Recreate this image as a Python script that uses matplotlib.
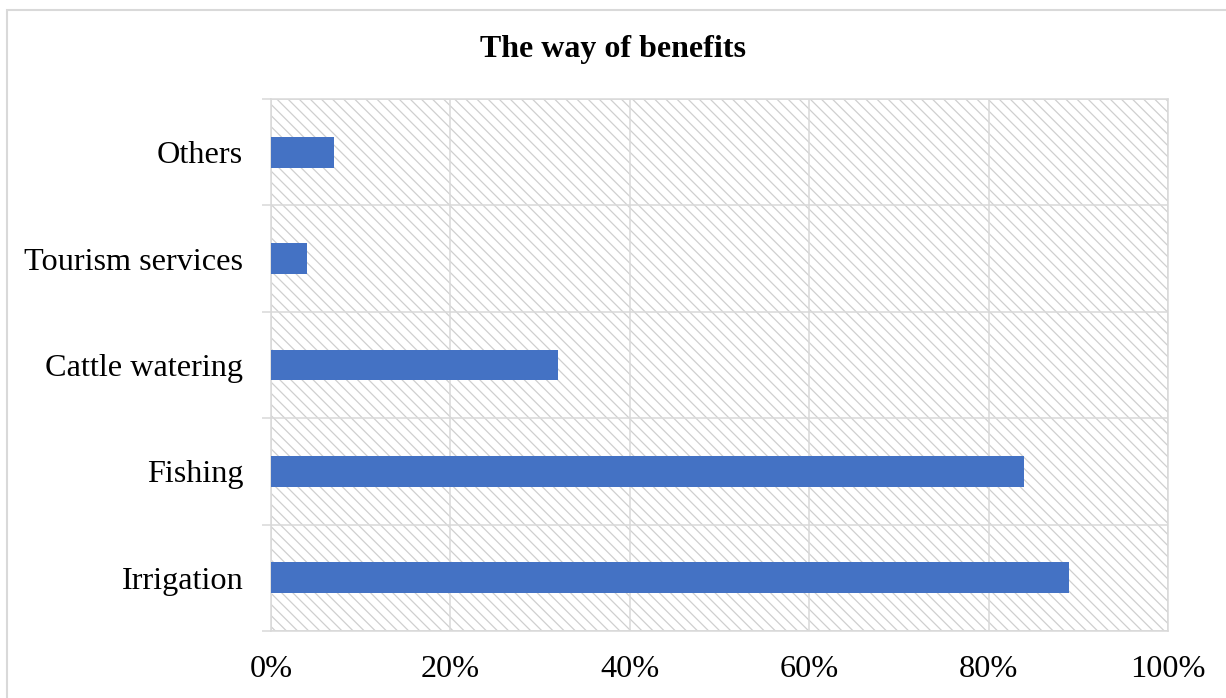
import matplotlib
matplotlib.use("Agg")
from matplotlib import pyplot as plt
from matplotlib.patches import Rectangle
from matplotlib.ticker import FuncFormatter

categories = ["Irrigation", "Fishing", "Cattle watering", "Tourism services", "Others"]
shares = [89, 84, 32, 4, 7]
x_ticks = [0, 20, 40, 60, 80, 100]

grid_color = "#d9d9d9"

plt.rcParams["font.family"] = ["Liberation Serif", "DejaVu Serif"]
plt.rcParams["hatch.linewidth"] = 0.9

fig = plt.figure(figsize=(12.26, 6.98), dpi=100)
ax = fig.add_axes([271 / 1226, 67 / 698, 897 / 1226, 532 / 698])

# hatched plot area
ax.add_patch(Rectangle((0, 0), 1, 1, transform=ax.transAxes, fill=False,
                       hatch="\\\\\\", edgecolor="#cfcfcf", lw=0, zorder=0))

ax.barh(range(len(categories)), shares, height=0.29, color="#4472C4", zorder=3)

ax.set_xlim(0, 100)
ax.set_ylim(-0.5, len(categories) - 0.5)
ax.set_xticks(x_ticks)
ax.xaxis.set_major_formatter(FuncFormatter(lambda v, p: f"{v:.0f}%"))
ax.set_yticks(range(len(categories)))
ax.set_yticklabels(categories)
ax.set_yticks([i - 0.5 for i in range(len(categories) + 1)], minor=True)

ax.tick_params(axis="both", which="major", length=0, labelsize=23.2)
ax.tick_params(axis="x", pad=17)
ax.tick_params(axis="y", which="major", pad=20)
ax.tick_params(axis="y", which="minor", length=6.5, width=1.1, color=grid_color)

ax.grid(axis="x", which="major", color=grid_color, lw=1.1)
ax.grid(axis="y", which="minor", color=grid_color, lw=1.1)
ax.set_axisbelow(True)
for side in ax.spines.values():
    side.set_color(grid_color)
    side.set_linewidth(1.1)

fig.text(0.5, 1 - 50 / 698, "The way of benefits", ha="center", va="center",
         fontsize=23, fontweight="bold")

# outer chart border
fig.add_artist(Rectangle((7 / 1226, -0.1), 1.2, 1.1 - 10 / 698,
                         transform=fig.transFigure, fill=False,
                         edgecolor=grid_color, lw=1.5))

fig.savefig("out.png", dpi=100)
